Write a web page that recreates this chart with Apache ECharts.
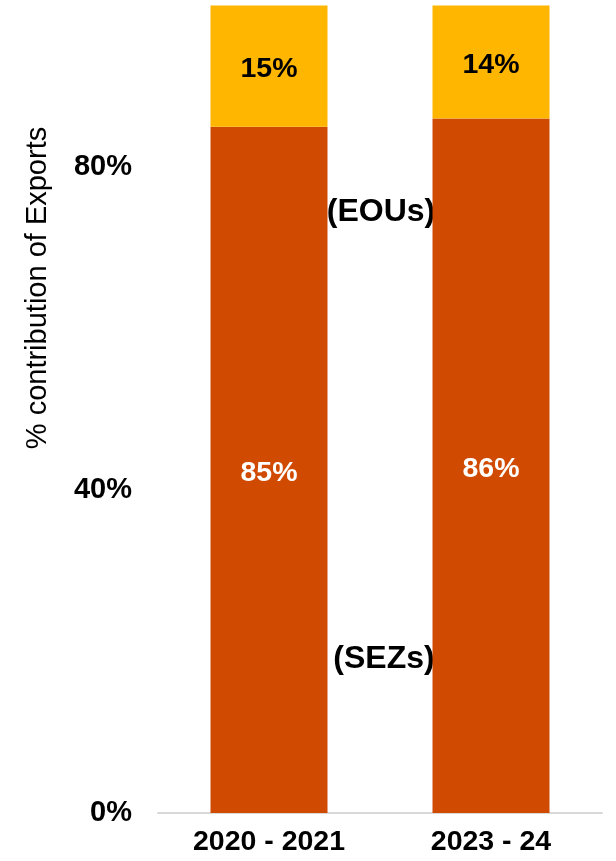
<!DOCTYPE html>
<html>
<head>
<meta charset="utf-8">
<script src="https://cdn.jsdelivr.net/npm/echarts@6/dist/echarts.min.js"></script>
<style>
html,body{margin:0;padding:0;background:#fff;}
#chart{width:616px;height:861px;}
</style>
</head>
<body>
<div id="chart"></div>
<script>
var categories = ['2020 - 2021', '2023 - 24'];
var sezValues = [85, 86];
var eouValues = [15, 14];
var yTicks = { min: 0, max: 100, interval: 40 };
var seriesNames = ['(SEZs)', '(EOUs)'];
var yAxisTitle = '% contribution of Exports';

var FONT = 'Liberation Sans, Arial, sans-serif';
var chart = echarts.init(document.getElementById('chart'));
chart.setOption({
  animation: false,
  backgroundColor: '#ffffff',
  grid: { left: 158, right: 14, top: 5.5, bottom: 48, containLabel: false },
  xAxis: {
    type: 'category',
    data: categories,
    axisLine: { show: true, lineStyle: { color: '#d9d9d9', width: 2 } },
    axisTick: { show: false },
    axisLabel: { color: '#000', fontFamily: FONT, fontWeight: 'bold', fontSize: 28.5, margin: 15 }
  },
  yAxis: {
    type: 'value',
    min: yTicks.min, max: yTicks.max, interval: yTicks.interval,
    axisLine: { show: false },
    axisTick: { show: false },
    splitLine: { show: false },
    axisLabel: {
      color: '#000', fontFamily: FONT, fontWeight: 'bold', fontSize: 29, margin: 26,
      showMaxLabel: false,
      formatter: '{value}%'
    }
  },
  series: [
    {
      name: seriesNames[0], type: 'bar', stack: 'total', data: sezValues, barWidth: 117,
      itemStyle: { color: '#D04A02' },
      label: { show: true, position: 'inside', offset: [0, 3], formatter: '{c}%', color: '#fff',
        fontFamily: FONT, fontWeight: 'bold', fontSize: 28.5 }
    },
    {
      name: seriesNames[1], type: 'bar', stack: 'total', data: eouValues, barWidth: 117,
      itemStyle: { color: '#FFB600' },
      label: { show: true, position: 'inside', offset: [0, 3], formatter: '{c}%', color: '#000',
        fontFamily: FONT, fontWeight: 'bold', fontSize: 28.5 }
    }
  ],
  graphic: [
    { type: 'text', x: 38, y: 288, rotation: Math.PI / 2,
      style: { text: yAxisTitle, fill: '#000', font: '29px ' + FONT, textAlign: 'center', textVerticalAlign: 'middle' } },
    { type: 'text', x: 381, y: 212,
      style: { text: seriesNames[1], fill: '#000', font: 'bold 32px ' + FONT, textAlign: 'center', textVerticalAlign: 'middle' } },
    { type: 'text', x: 384, y: 659,
      style: { text: seriesNames[0], fill: '#000', font: 'bold 32px ' + FONT, textAlign: 'center', textVerticalAlign: 'middle' } }
  ]
});
</script>
</body>
</html>
